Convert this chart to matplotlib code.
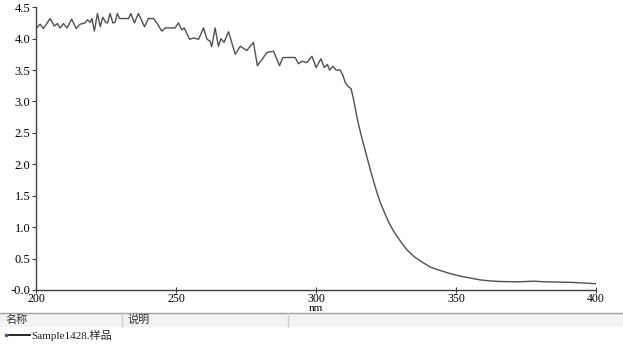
import matplotlib.pyplot as plt
from matplotlib.lines import Line2D
from matplotlib.patches import Rectangle

plt.rcParams['font.family'] = ['Liberation Serif', 'Noto Sans CJK SC']

# Espectro (nm, absorbância)
nm = [200, 201.4, 202.6, 205.0, 206.5, 207.6, 208.6, 209.8, 211.0, 212.7,
      214.3, 215.7, 217.5, 218.3, 219.3, 219.9, 220.8, 221.9, 222.9, 223.8,
      224.8, 225.5, 226.4, 227.4, 228.2, 229.0, 229.8, 230.6, 233.0, 233.8,
      235.1, 236.5, 238.7, 240.1, 241.9, 243.1, 244.9, 246.1, 249.6, 250.8,
      252.0, 252.9, 254.8, 256.2, 258.0, 259.8, 261.0, 262.1, 262.7, 263.9,
      265.1, 266.0, 267.1, 268.7, 271.1, 272.9, 275.2, 277.6, 279.0, 281.2,
      282.4, 284.8, 286.9, 288.1, 292.5, 293.7, 294.9, 296.7, 298.5, 300.0,
      301.7, 302.9, 304.0, 304.8, 306.0, 307.1, 308.6, 309.5, 310.4, 311.2,
      312.5, 313.5, 314.5, 315.7, 316.9, 318.1, 319.3, 320.5, 321.7, 323.0,
      324.5, 326.0, 327.6, 330.0, 332.4, 335.0, 338.3, 341.0, 344.3, 347.9,
      351.4, 355.0, 358.6, 362.0, 365.7, 372.0, 377.6, 382.0, 391.9, 400.0]
absorb = [4.16, 4.23, 4.16, 4.32, 4.20, 4.24, 4.17, 4.24, 4.17, 4.31,
          4.16, 4.23, 4.25, 4.30, 4.26, 4.32, 4.12, 4.40, 4.19, 4.34,
          4.26, 4.25, 4.40, 4.25, 4.26, 4.40, 4.32, 4.32, 4.32, 4.40,
          4.25, 4.40, 4.19, 4.32, 4.32, 4.25, 4.12, 4.17, 4.17, 4.25,
          4.14, 4.17, 3.99, 4.01, 3.99, 4.17, 3.99, 3.96, 3.87, 4.17,
          3.88, 4.00, 3.94, 4.11, 3.75, 3.88, 3.81, 3.94, 3.57, 3.70,
          3.78, 3.80, 3.57, 3.70, 3.70, 3.60, 3.64, 3.62, 3.72, 3.54,
          3.68, 3.54, 3.59, 3.50, 3.56, 3.50, 3.50, 3.42, 3.30, 3.25,
          3.20, 3.00, 2.76, 2.53, 2.32, 2.12, 1.92, 1.73, 1.55, 1.38,
          1.22, 1.07, 0.94, 0.78, 0.64, 0.53, 0.43, 0.36, 0.31, 0.26,
          0.22, 0.19, 0.16, 0.145, 0.135, 0.13, 0.14, 0.13, 0.12, 0.10]

y_ticks = [0, 0.5, 1.0, 1.5, 2.0, 2.5, 3.0, 3.5, 4.0, 4.5]
y_labels = ['-0.0', '0.5', '1.0', '1.5', '2.0', '2.5', '3.0', '3.5', '4.0', '4.5']
x_ticks = [200, 250, 300, 350, 400]

fig = plt.figure(figsize=(6.23, 3.44), dpi=100)
ax = fig.add_axes([0.058, 0.157, 0.899, 0.822])
ax.plot(nm, absorb, color='#505050', linewidth=1)

ax.set_xlim(200, 400)
ax.set_ylim(0, 4.5)
ax.set_yticks(y_ticks)
ax.set_yticklabels(y_labels)
ax.set_xticks(x_ticks)
ax.tick_params(axis='y', direction='out', length=3, labelsize=9, pad=1, color='#404040')
ax.tick_params(axis='x', direction='inout', length=5, labelsize=8.5, pad=-0.5, color='#404040')
for s in ['top', 'right']:
    ax.spines[s].set_visible(False)
for s in ['left', 'bottom']:
    ax.spines[s].set_color('#404040')
    ax.spines[s].set_linewidth(1)
ax.set_xlabel('nm', fontsize=8, labelpad=-0.5)

# Tabela da legenda abaixo do gráfico
W, H = 623, 344
def fx(p):
    return p / W
def fy(p):
    return 1 - p / H

fig.add_artist(Rectangle((0, fy(327)), 1, fy(312.5) - fy(327), transform=fig.transFigure,
                         facecolor='#f2f2f2', edgecolor='none'))
fig.add_artist(Line2D([0, 1], [fy(312.5), fy(312.5)], transform=fig.transFigure,
                      color='#a0a0a0', linewidth=1))
for xv in [122, 288]:
    fig.add_artist(Line2D([fx(xv), fx(xv)], [fy(327), fy(313)], transform=fig.transFigure,
                          color='#d0d0d0', linewidth=1))
fig.text(fx(5), fy(320), '名称', fontsize=8, va='center', ha='left', color='#333333')
fig.text(fx(128), fy(320), '说明', fontsize=8, va='center', ha='left', color='#333333')

fig.add_artist(Line2D([fx(9), fx(30)], [fy(335), fy(335)], transform=fig.transFigure,
                      color='black', linewidth=1.2))
fig.add_artist(Line2D([fx(6)], [fy(335)], transform=fig.transFigure, marker='o',
                      markersize=1.5, color='#2050c0', linestyle='none'))
fig.text(fx(31), fy(335), 'Sample1428.样品', fontsize=8, va='center', ha='left', color='#222222')

fig.savefig('out.png', dpi=100)
